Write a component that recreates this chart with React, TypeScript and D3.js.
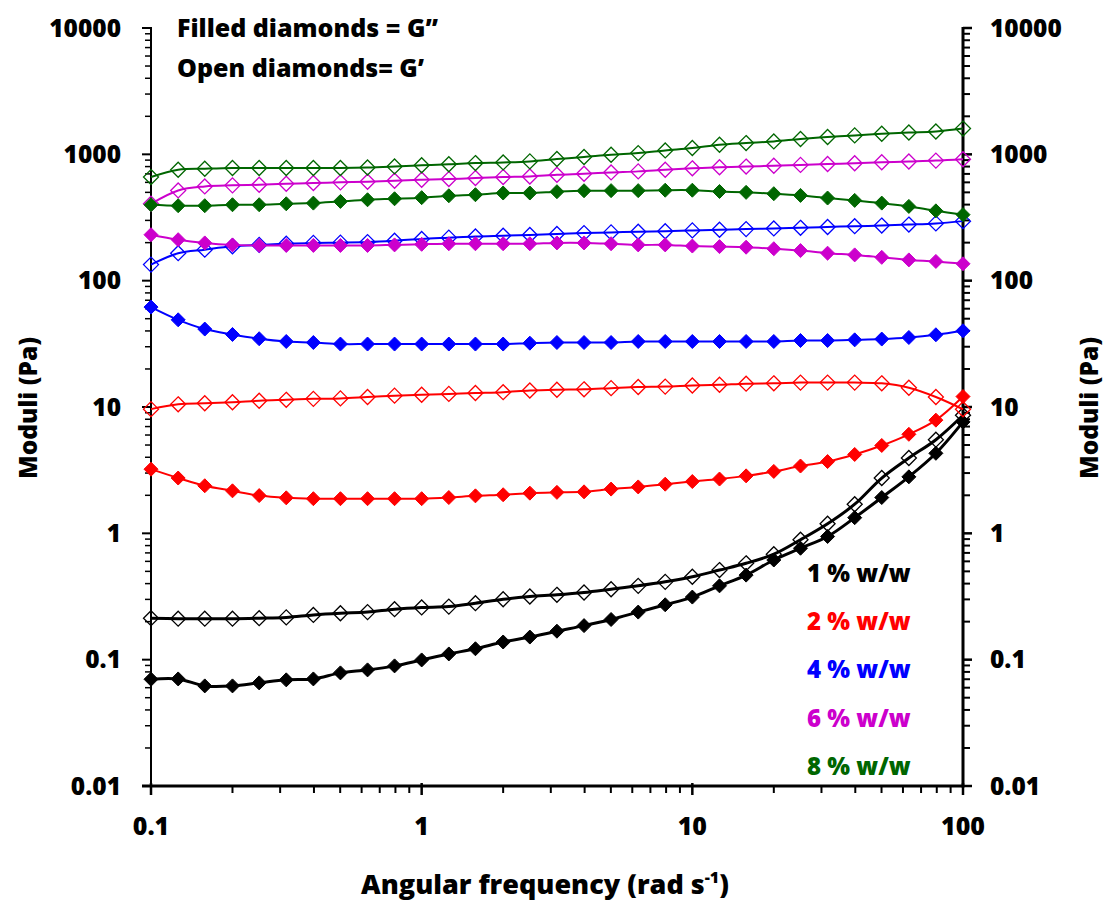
import React, { useRef, useEffect } from 'react';
import * as d3 from 'd3';

// angular frequency (rad/s)
const freq = [0.1, 0.126, 0.158, 0.2, 0.251, 0.316, 0.398, 0.501, 0.631, 0.794, 1, 1.26, 1.58, 2, 2.51, 3.16, 3.98, 5.01, 6.31, 7.94, 10, 12.6, 15.8, 20, 25.1, 31.6, 39.8, 50.1, 63.1, 79.4, 100];

// G'' (filled) and G' (open), Pa
const g1Loss = [0.070, 0.0704, 0.062, 0.062, 0.0655, 0.0692, 0.0704, 0.0786, 0.083, 0.0893, 0.0995, 0.111, 0.122, 0.138, 0.151, 0.168, 0.186, 0.208, 0.238, 0.272, 0.313, 0.384, 0.467, 0.615, 0.762, 0.944, 1.33, 1.92, 2.80, 4.30, 7.62];
const g1Store = [0.213, 0.211, 0.211, 0.211, 0.213, 0.216, 0.226, 0.233, 0.238, 0.251, 0.259, 0.263, 0.280, 0.301, 0.316, 0.326, 0.340, 0.361, 0.384, 0.413, 0.453, 0.512, 0.579, 0.684, 0.89, 1.19, 1.70, 2.74, 3.95, 5.51, 8.61];
const g2Loss = [3.22, 2.74, 2.38, 2.17, 1.99, 1.91, 1.88, 1.88, 1.88, 1.88, 1.88, 1.92, 1.98, 2.02, 2.08, 2.11, 2.13, 2.24, 2.33, 2.45, 2.57, 2.69, 2.85, 3.09, 3.41, 3.70, 4.21, 4.96, 6.08, 7.87, 12.1];
const g2Store = [9.62, 10.5, 10.7, 10.9, 11.2, 11.4, 11.6, 11.7, 12.0, 12.3, 12.5, 12.7, 12.9, 13.1, 13.5, 13.7, 13.8, 14.1, 14.4, 14.5, 14.8, 15.0, 15.3, 15.4, 15.6, 15.6, 15.6, 15.4, 14.2, 12.0, 9.6];
const g4Loss = [61.8, 49.0, 41.4, 37.5, 34.7, 33.0, 32.4, 31.5, 31.5, 31.5, 31.5, 31.5, 31.5, 31.5, 32.0, 32.4, 32.4, 32.4, 33.0, 33.0, 33.0, 33.0, 33.0, 33.0, 33.6, 33.6, 34.0, 34.5, 35.5, 37.3, 40.1];
const g4Store = [134, 165, 176, 187, 192, 196, 199, 200, 202, 207, 214, 219, 224, 227, 230, 234, 238, 241, 244, 246, 250, 253, 256, 259, 262, 266, 270, 273, 278, 284, 296];
const g6Loss = [231, 211, 199, 192, 190, 190, 190, 190, 190, 192, 194, 196, 196, 196, 196, 199, 199, 196, 192, 192, 188, 186, 184, 179, 173, 165, 160, 153, 146, 142, 136];
const g6Store = [406, 518, 557, 568, 574, 585, 593, 600, 607, 618, 629, 637, 649, 661, 668, 689, 702, 719, 733, 755, 775, 790, 800, 812, 825, 838, 850, 865, 878, 892, 915];
const g8Loss = [399, 392, 392, 399, 399, 406, 411, 424, 437, 445, 454, 470, 479, 494, 494, 506, 515, 516, 516, 520, 520, 508, 500, 488, 473, 451, 432, 411, 387, 357, 333];
const g8Store = [661, 755, 769, 780, 780, 780, 780, 780, 787, 802, 820, 834, 853, 863, 879, 918, 953, 993, 1023, 1074, 1122, 1191, 1228, 1265, 1322, 1371, 1412, 1455, 1489, 1517, 1600];

const legendLabels = ['1 % w/w', '2 % w/w', '4 % w/w', '6 % w/w', '8 % w/w'];
const colors = ['#000000', '#FF0000', '#0000FF', '#CC00CC', '#006600'];
const lossSeries = [g1Loss, g2Loss, g4Loss, g6Loss, g8Loss];
const storeSeries = [g1Store, g2Store, g4Store, g6Store, g8Store];

const yTicks = [0.01, 0.1, 1, 10, 100, 1000, 10000];
const yTickLabels = ['0.01', '0.1', '1', '10', '100', '1000', '10000'];
const xTicks = [0.1, 1, 10, 100];
const xTickLabels = ['0.1', '1', '10', '100'];

const FONT = '"Open Sans", Lato, sans-serif';

const App = () => {
    const ref = useRef<SVGSVGElement | null>(null);

    useEffect(() => {
        if (!ref.current) return;
        const svg = d3.select(ref.current);
        svg.selectAll('*').remove();

        const left = 151, right = 963, top = 28, bottom = 786;
        const x = d3.scaleLog().domain([0.1, 100]).range([left, right]);
        const y = d3.scaleLog().domain([0.01, 10000]).range([bottom, top]);

        const g = svg.append('g').style('font-family', FONT).style('font-weight', 800);

        // minor ticks (2..9 in every decade)
        const yMinor: number[] = [];
        yTicks.slice(0, -1).forEach(d => { for (let k = 2; k <= 9; k++) yMinor.push(d * k); });
        const xMinor: number[] = [];
        xTicks.slice(0, -1).forEach(d => { for (let k = 2; k <= 9; k++) xMinor.push(d * k); });

        const axes = g.append('g').attr('stroke', '#000');
        // left axis
        axes.append('line').attr('x1', left).attr('x2', left).attr('y1', top - 1).attr('y2', bottom).attr('stroke-width', 2);
        axes.selectAll('.lmaj').data(yTicks).join('line')
            .attr('x1', left - 9).attr('x2', left).attr('y1', d => y(d)).attr('y2', d => y(d)).attr('stroke-width', 2);
        axes.selectAll('.lmin').data(yMinor).join('line')
            .attr('x1', left - 6).attr('x2', left).attr('y1', d => y(d)).attr('y2', d => y(d)).attr('stroke-width', 1.5);
        // right axis
        axes.append('line').attr('x1', right).attr('x2', right).attr('y1', top - 1).attr('y2', bottom + 1.5).attr('stroke-width', 3);
        axes.selectAll('.rmaj').data(yTicks).join('line')
            .attr('x1', right).attr('x2', right + 9).attr('y1', d => y(d)).attr('y2', d => y(d)).attr('stroke-width', 2.5);
        axes.selectAll('.rmin').data(yMinor).join('line')
            .attr('x1', right).attr('x2', right + 7).attr('y1', d => y(d)).attr('y2', d => y(d)).attr('stroke-width', 2);
        // bottom axis
        axes.append('line').attr('x1', left - 9).attr('x2', right).attr('y1', bottom).attr('y2', bottom).attr('stroke-width', 3);
        axes.selectAll('.bmaj').data(xTicks).join('line')
            .attr('x1', d => x(d)).attr('x2', d => x(d)).attr('y1', bottom - 3).attr('y2', bottom + 9).attr('stroke-width', 2.5);
        axes.selectAll('.bmin').data(xMinor).join('line')
            .attr('x1', d => x(d)).attr('x2', d => x(d)).attr('y1', bottom).attr('y2', bottom + 7).attr('stroke-width', 2);

        // tick labels
        g.selectAll('.yl').data(yTicks).join('text')
            .attr('x', 121).attr('y', d => y(d)).attr('dy', '0.36em')
            .attr('text-anchor', 'end').style('font-size', '24.5px')
            .text((d, i) => yTickLabels[i]);
        g.selectAll('.yr').data(yTicks).join('text')
            .attr('x', 990).attr('y', d => y(d)).attr('dy', '0.36em')
            .attr('text-anchor', 'start').style('font-size', '24.5px')
            .text((d, i) => yTickLabels[i]);
        g.selectAll('.xl').data(xTicks).join('text')
            .attr('x', d => x(d)).attr('y', 835)
            .attr('text-anchor', 'middle').style('font-size', '25px')
            .text((d, i) => xTickLabels[i]);

        // axis titles
        const xt = g.append('text').attr('x', 545).attr('y', 894).attr('text-anchor', 'middle').style('font-size', '27px');
        xt.append('tspan').text('Angular frequency (rad s');
        xt.append('tspan').attr('dy', -11).style('font-size', '16px').text('-1');
        xt.append('tspan').attr('dy', 11).text(')');

        g.append('text').attr('transform', 'translate(37,408) rotate(-90)')
            .attr('text-anchor', 'middle').style('font-size', '24.5px').text('Moduli (Pa)');
        g.append('text').attr('transform', 'translate(1098,408) rotate(-90)')
            .attr('text-anchor', 'middle').style('font-size', '24.5px').text('Moduli (Pa)');

        // annotations
        g.append('text').attr('x', 177).attr('y', 37).style('font-size', '25px').text('Filled diamonds = G’’');
        g.append('text').attr('x', 177).attr('y', 77).style('font-size', '25px').text('Open diamonds= G’');

        // series
        const line = d3.line<number>()
            .x((d, i) => x(freq[i]))
            .y(d => y(d))
            .curve(d3.curveCatmullRom.alpha(0.5));
        const diamond = (r: number) => `M0,${-r}L${r},0L0,${r}L${-r},0Z`;

        const plot = g.append('g');
        colors.forEach((c, k) => {
            const lw = k === 0 ? 3 : 2;
            plot.append('path').datum(storeSeries[k]).attr('d', line)
                .attr('fill', 'none').attr('stroke', c).attr('stroke-width', lw);
            plot.append('path').datum(lossSeries[k]).attr('d', line)
                .attr('fill', 'none').attr('stroke', c).attr('stroke-width', lw);
            plot.append('g').selectAll('path').data(storeSeries[k]).join('path')
                .attr('transform', (d, i) => `translate(${x(freq[i])},${y(d)})`)
                .attr('d', diamond(7.5)).attr('fill', 'none').attr('stroke', c).attr('stroke-width', 1.3);
            plot.append('g').selectAll('path').data(lossSeries[k]).join('path')
                .attr('transform', (d, i) => `translate(${x(freq[i])},${y(d)})`)
                .attr('d', diamond(7)).attr('fill', c).attr('stroke', c).attr('stroke-width', 1);
        });

        // legend labels
        g.selectAll('.leg').data(legendLabels).join('text')
            .attr('x', 807).attr('y', (d, i) => 573 + i * 48.3).attr('dy', '0.36em')
            .style('font-size', '24px').attr('fill', (d, i) => colors[i])
            .text(d => d);
    }, []);

    return <svg ref={ref} width={1106} height={903} style={{ position: 'absolute', left: 0, top: 0, background: '#fff' }} />;
};

export default App;
